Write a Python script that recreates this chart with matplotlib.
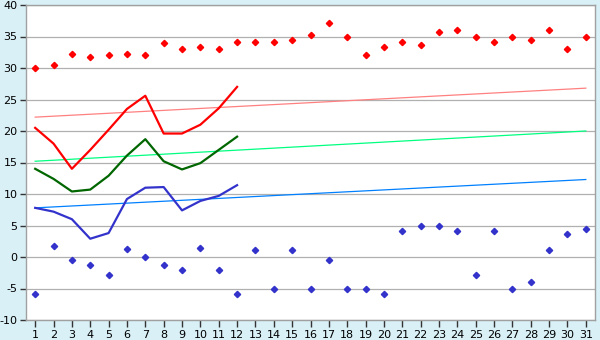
import matplotlib
matplotlib.use("Agg")
import matplotlib.pyplot as plt

days = list(range(1, 32))
max_vals = [30.0, 30.4, 32.2, 31.8, 32.0, 32.2, 32.0, 34.0, 33.0, 33.4, 33.0, 34.1, 34.1, 34.1, 34.4, 35.2,
            37.1, 35.0, 32.0, 33.4, 34.1, 33.6, 35.7, 36.0, 35.0, 34.1, 35.0, 34.5, 36.0, 33.0, 35.0]
min_vals = [-5.9, 1.8, -0.5, -1.2, -2.9, 1.2, 0.0, -1.2, -2.1, 1.5, -2.0, -5.9, 1.1, -5.0, 1.1, -5.0,
            -0.4, -5.0, -5.0, -5.9, 4.1, 5.0, 5.0, 4.1, -2.9, 4.1, -5.0, -4.0, 1.1, 3.6, 4.4]

line_days = list(range(1, 13))
red_line = [20.5, 18.0, 14.0, 17.0, 20.2, 23.5, 25.6, 19.6, 19.6, 21.0, 23.6, 27.0]
green_line = [14.0, 12.4, 10.4, 10.7, 12.9, 16.1, 18.7, 15.2, 13.9, 14.9, 17.0, 19.1]
blue_line = [7.8, 7.2, 6.0, 2.9, 3.8, 9.2, 11.0, 11.1, 7.4, 8.9, 9.7, 11.4]

trend_days = [1, 31]
red_trend = [22.2, 26.8]
green_trend = [15.2, 20.0]
blue_trend = [7.8, 12.3]

yticks = [-10, -5, 0, 5, 10, 15, 20, 25, 30, 35, 40]

bg = "#D9F0F6"
fig = plt.figure(figsize=(6, 3.4), dpi=100, facecolor=bg)
ax = fig.add_axes([26/600, 20/340, 569/600, 315/340])
ax.set_facecolor("white")

for y in yticks:
    ax.axhline(y, color="#B0B0B0", lw=0.9, zorder=1)

ax.plot(trend_days, red_trend, color="#FF8080", lw=0.9, zorder=2)
ax.plot(trend_days, green_trend, color="#00FF80", lw=0.9, zorder=2)
ax.plot(trend_days, blue_trend, color="#0080FF", lw=0.9, zorder=2)

ax.plot(line_days, red_line, color="#FF0000", lw=1.6, zorder=3)
ax.plot(line_days, green_line, color="#006600", lw=1.6, zorder=3)
ax.plot(line_days, blue_line, color="#3333CC", lw=1.6, zorder=3)

ax.plot(days, max_vals, linestyle="none", marker="D", markersize=3.2, color="#FF0000", zorder=4)
ax.plot(days, min_vals, linestyle="none", marker="D", markersize=3.2, color="#3333CC", zorder=4)

ax.set_xlim(0.5, 31.5)
ax.set_ylim(-10, 40)
ax.set_xticks(days)
ax.set_yticks(yticks)
ax.set_yticklabels([str(v) for v in yticks])
for s in ax.spines.values():
    s.set_color("#A0A0A0")
    s.set_linewidth(1.0)
ax.tick_params(axis="both", colors="#000000", labelsize=8, length=4, width=1.0, pad=2)
ax.tick_params(axis="x", color="#333333", length=5)
ax.tick_params(axis="y", color="#333333")

fig.savefig("out.png", dpi=100, facecolor=bg)
